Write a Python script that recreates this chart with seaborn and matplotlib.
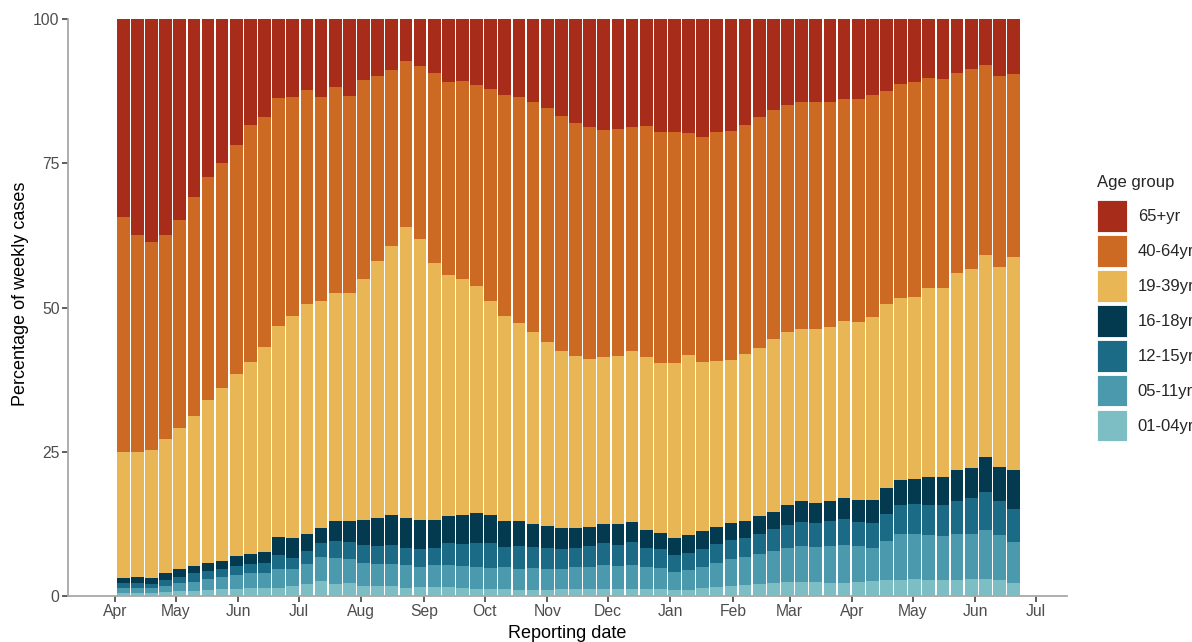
import numpy as np
import pandas as pd
import matplotlib
matplotlib.use("Agg")
import matplotlib.pyplot as plt
import matplotlib.dates as mdates
import seaborn as sns

# weekly reporting dates (bar centres)
weeks = pd.date_range("2021-04-05", periods=64, freq="7D")

age_groups = ["65+yr", "40-64yr", "19-39yr", "16-18yr", "12-15yr", "05-11yr", "01-04yr"]
colors = ["#A72C19", "#CC6A23", "#E8B654", "#033A50", "#1B6B87", "#4A99AC", "#7DBEC4"]

# cumulative top edge of each band (percent)
top_0104 = [0.5, 0.5, 0.5, 0.7, 0.9, 0.9, 1.0, 1.2, 1.2, 1.3, 1.4, 1.4, 1.7, 2.0, 2.6, 2.1,
            2.2, 1.8, 1.8, 1.7, 1.4, 1.6, 1.6, 1.5, 1.4, 1.2, 1.2, 1.2, 1.1, 1.1, 1.1, 1.2,
            1.2, 1.2, 1.2, 1.2, 1.2, 1.2, 1.2, 1.1, 1.1, 1.4, 1.6, 1.8, 1.9, 2.1, 2.2, 2.4,
            2.4, 2.4, 2.3, 2.3, 2.4, 2.6, 2.7, 2.8, 2.9, 2.8, 2.8, 2.8, 2.9, 3.0, 2.7, 2.3]
top_0511 = [1.3, 1.4, 1.3, 1.8, 2.2, 2.5, 3.0, 3.3, 3.6, 3.9, 4.0, 4.6, 4.6, 5.5, 6.8, 6.6,
            6.4, 5.7, 5.6, 5.6, 5.4, 5.0, 5.3, 5.4, 5.2, 5.0, 4.9, 5.0, 4.6, 4.9, 4.7, 4.7,
            5.0, 5.0, 5.3, 5.2, 5.3, 5.0, 4.8, 4.2, 4.5, 5.1, 5.8, 6.4, 6.8, 7.3, 7.8, 8.3,
            8.7, 8.5, 8.7, 8.8, 8.7, 8.3, 9.5, 10.8, 10.8, 10.5, 10.4, 10.8, 10.8, 11.5, 10.5, 9.4]
top_1215 = [2.2, 2.3, 2.1, 2.8, 3.3, 3.9, 4.3, 4.7, 5.2, 5.6, 5.8, 7.1, 6.5, 7.8, 9.1, 9.6,
            9.3, 8.8, 8.7, 8.8, 8.3, 8.1, 8.4, 9.2, 9.0, 9.1, 9.1, 8.5, 8.7, 8.5, 8.4, 8.2,
            8.4, 8.6, 9.1, 8.9, 9.3, 8.4, 8.1, 7.1, 7.4, 8.1, 9.0, 9.7, 10.1, 10.7, 11.6, 12.3,
            12.9, 12.6, 13.0, 13.3, 12.9, 12.6, 14.2, 15.8, 16.0, 15.8, 15.8, 16.5, 16.9, 18.1, 16.5, 15.1]
top_1618 = [3.2, 3.3, 3.2, 4.0, 4.6, 5.2, 5.7, 6.1, 6.9, 7.2, 7.6, 10.2, 10.1, 10.7, 11.8, 13.0,
            13.0, 13.2, 13.6, 14.0, 13.5, 13.2, 13.2, 13.9, 14.1, 14.4, 14.0, 13.0, 13.0, 12.5, 12.1, 11.7,
            11.8, 12.0, 12.5, 12.4, 12.8, 11.5, 11.0, 10.0, 10.5, 11.2, 12.0, 12.7, 13.0, 13.8, 14.6, 15.8,
            16.4, 16.2, 16.5, 17.0, 16.6, 16.6, 18.7, 20.1, 20.3, 20.7, 20.7, 21.8, 22.1, 24.1, 22.3, 21.9]
top_1939 = [24.9, 24.9, 25.3, 27.2, 29.1, 31.2, 34.0, 36.1, 38.4, 40.6, 43.2, 46.8, 48.6, 50.6, 51.1, 52.5,
            52.5, 55.0, 58.1, 60.7, 64.0, 61.9, 57.7, 55.7, 54.9, 53.7, 51.1, 48.6, 47.4, 45.7, 44.0, 42.5,
            41.6, 41.1, 41.4, 41.6, 42.5, 41.4, 40.4, 40.4, 41.8, 40.6, 40.8, 40.9, 41.9, 43.0, 44.5, 45.7,
            46.3, 46.2, 46.7, 47.7, 47.5, 48.4, 50.6, 51.6, 51.9, 53.4, 53.3, 55.9, 56.6, 59.1, 57.1, 58.8]
top_4064 = [65.6, 62.5, 61.3, 62.5, 65.1, 69.2, 72.6, 75.1, 78.2, 81.6, 83.1, 86.3, 86.5, 87.7, 86.5, 88.3,
            86.6, 89.5, 90.2, 91.2, 92.7, 91.9, 90.7, 89.1, 89.3, 88.6, 87.9, 86.9, 86.5, 85.6, 84.5, 83.2,
            82.0, 81.2, 80.8, 80.9, 81.3, 81.4, 80.5, 80.4, 80.2, 79.5, 80.4, 80.6, 81.7, 83.1, 84.2, 85.1,
            85.6, 85.6, 85.6, 86.1, 86.1, 86.9, 87.5, 88.7, 89.0, 89.8, 89.6, 90.7, 91.3, 92.0, 90.2, 90.5]
top_65 = [100.0] * 64

# band heights from the cumulative edges, bottom to top
tops = np.array([top_0104, top_0511, top_1215, top_1618, top_1939, top_4064, top_65])
shares = np.diff(np.vstack([np.zeros(64), tops]), axis=0)

xnum = mdates.date2num(weeks)
rows = []
for gi, grp in enumerate(age_groups[::-1]):
    for wi in range(64):
        rows.append({"week": xnum[wi], "group": grp, "pct": shares[gi, wi]})
df = pd.DataFrame(rows)

sns.set_theme(style="white")
plt.rcParams["font.family"] = ["Liberation Sans", "DejaVu Sans"]

fig = plt.figure(figsize=(11.92, 6.42), dpi=100)
ax = fig.add_axes([68 / 1192, 46 / 642, 999 / 1192, 577 / 642])

sns.histplot(data=df, x="week", weights="pct", hue="group", hue_order=age_groups,
             palette=colors, multiple="stack", binwidth=7,
             binrange=(xnum[0] - 3.5, xnum[-1] + 3.5), shrink=0.9,
             alpha=1, linewidth=0, edgecolor="none", ax=ax)

ax.set_ylim(0, 100)
ax.set_yticks([0, 25, 50, 75, 100])
ax.set_xlim(mdates.date2num(pd.Timestamp("2021-03-08 16:00")),
            mdates.date2num(pd.Timestamp("2022-07-16 10:00")))
ax.xaxis.set_major_locator(mdates.MonthLocator())
ax.xaxis.set_major_formatter(mdates.DateFormatter("%b"))

for s in ["top", "right"]:
    ax.spines[s].set_visible(False)
for s in ["left", "bottom"]:
    ax.spines[s].set_color("#a8a8a8")
    ax.spines[s].set_linewidth(1.3)
ax.tick_params(axis="both", which="major", length=4, width=1.1, color="#333333",
               labelcolor="#4d4d4d", labelsize=11.3, pad=2, bottom=True, left=True)

ax.set_xlabel("Reporting date", fontsize=13, color="black", labelpad=4)
ax.set_ylabel("Percentage of weekly cases", fontsize=13, color="black", labelpad=3)
ax.yaxis.label.set_y(0.523)

# legend sits at the right edge; the reference crops its labels there too
sns.move_legend(ax, "upper left", bbox_to_anchor=(1097 / 1192, 1 - 175 / 642),
                bbox_transform=fig.transFigure, title="Age group", frameon=False,
                fontsize=12, title_fontsize=12, handlelength=1.8, handleheight=2.55,
                labelspacing=0.19, handletextpad=0.65, borderaxespad=0, borderpad=0)
leg = ax.get_legend()
leg._legend_box.align = "left"
leg._legend_box.sep = 7.5
for p in leg.get_patches():
    p.set_edgecolor("white")
    p.set_linewidth(0.6)

fig.savefig("out.png", dpi=100)
